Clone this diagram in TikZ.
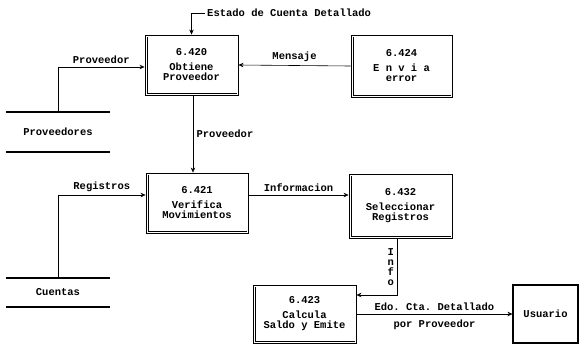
\documentclass[tikz,border=0pt]{standalone}
\usepackage{fontspec}
\setmonofont{Liberation Mono}
\usetikzlibrary{arrows.meta}

\tikzset{
  proc/.style={draw, line width=0.9pt, align=center, inner sep=2pt},
  ext/.style={draw, line width=1.1pt, align=center},
  store/.style={minimum width=103pt, minimum height=40pt, inner sep=0pt},
  storeline/.style={line width=1.6pt},
  flow/.style={-{Stealth[length=5pt,width=4.5pt]}, line width=0.6pt},
  inner/.style={line width=0.5pt}
}

\begin{document}
\begin{tikzpicture}[x=1pt, y=-1pt,
    font=\fontsize{10.5}{10.5}\selectfont\ttfamily\bfseries]
    \useasboundingbox (0,0) rectangle (585,348);

    % procesos
    \node[proc, minimum width=93pt, minimum height=60pt] (p420) at (191.5,65)
        {6.420\\[4pt]Obtiene\\Proveedor};
    \node[proc, minimum width=101pt, minimum height=62pt] (p424) at (401.5,66)
        {6.424\\[4pt]E n v i a\\error};
    \node[proc, minimum width=102pt, minimum height=60pt] (p421) at (197,203)
        {6.421\\[4pt]Verifica\\Movimientos};
    \node[proc, minimum width=103pt, minimum height=64pt] (p432) at (400.5,206)
        {6.432\\[4pt]Seleccionar\\Registros};
    \node[proc, minimum width=103pt, minimum height=58pt] (p423) at (304.5,314)
        {6.423\\[4pt]Calcula\\Saldo y Emite};
    \node[ext, minimum width=65pt, minimum height=58pt] (usr) at (545.5,314) {Usuario};

    % lineas dobles
    \foreach \b in {p420,p424,p421,p432,p423} {
        \draw[inner] ([xshift=2.5pt,yshift=2.5pt]\b.south west) -- ([xshift=2.5pt,yshift=-2.5pt]\b.north west);
        \draw[inner] ([xshift=2.5pt,yshift=2.5pt]\b.south west) -- ([xshift=-1pt,yshift=2.5pt]\b.south east);
    }

    % almacenes
    \node[store] (sprov) at (58,132) {Proveedores};
    \node[store, minimum height=29pt] (scta) at (58,292.5) {Cuentas};
    \foreach \s in {sprov,scta} {
        \draw[storeline] (\s.north west) -- (\s.north east);
        \draw[storeline] (\s.south west) -- (\s.south east);
    }

    % flujos
    \node[anchor=west, inner sep=2pt] (edo) at (205,13) {Estado de Cuenta Detallado};
    \draw[flow] (edo.west) -| (p420.north);

    \draw[flow] (sprov.north) |- ([yshift=-2pt]p420.west)
        node[pos=0.75, above] {Proveedor};
    \draw[flow] (p424.west) -- (p420.east)
        node[midway, above] {Mensaje};
    \draw[flow] ([xshift=1.5pt]p420.south) -- ([xshift=1.5pt]p420.south |- p421.north)
        node[midway, right] {Proveedor};
    \draw[flow] (scta.north) |- ([yshift=8pt]p421.west)
        node[pos=0.75, above] {Registros};
    \draw[flow] ([yshift=8pt]p421.east) -- ([yshift=8pt]p421.east -| p432.west)
        node[midway, above] {Informacion};
    \draw[flow] ([xshift=-3pt]p432.south) |- ([yshift=19pt]p423.east)
        node[pos=0.25, left, align=center, font=\fontsize{10.5}{10}\selectfont\ttfamily\bfseries] {I\\n\\f\\o};
    \draw[flow] (p423.east) -- (usr.west)
        node[midway, above] {Edo. Cta. Detallado}
        node[midway, below=2pt] {por Proveedor};
\end{tikzpicture}
\end{document}
